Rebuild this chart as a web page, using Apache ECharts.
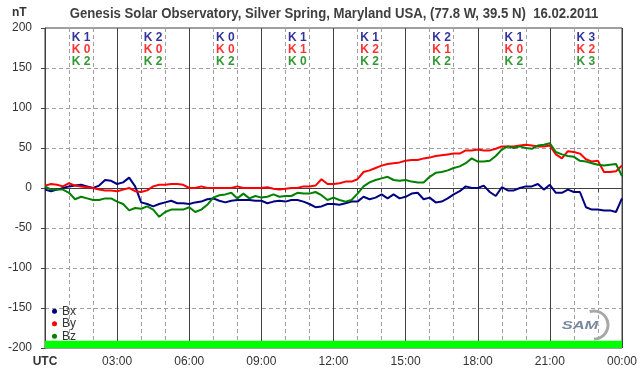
<!DOCTYPE html>
<html>
<head>
<meta charset="utf-8">
<script src="https://cdn.jsdelivr.net/npm/echarts@6/dist/echarts.min.js"></script>
<style>
  html, body { margin: 0; padding: 0; background: #fff; }
  #chart { width: 642px; height: 376px; }
</style>
</head>
<body>
<div id="chart"></div>
<script>
// samples every 15 minutes, 00:00 .. 24:00 UTC (nT)
const stepMin = 15;
const bx = [
  -2, -4, -2, 0, 2, 3, 4, 2, 0, 3, 10, 9, 5, 7, 13, 2,
  -18, -20, -23, -20, -18, -16, -19, -19, -20, -18, -17, -14, -13, -16, -18, -16,
  -15, -15, -15, -16, -16, -19, -17, -16, -17, -15, -15, -17, -20, -24, -23, -20,
  -20, -21, -19, -17, -17, -11, -14, -12, -8, -13, -8, -13, -11, -7, -6, -14,
  -12, -18, -17, -13, -8, -4, 2, 0, 0, 3, -5, -10, 1, -3, -3, 0,
  2, 2, 5, -2, 4, -6, -6, -2, -5, -5, -24, -27, -27, -28, -28, -30, -13,
];
const by = [
  3, 5, 4, 2, 6, 3, 2, 1, 0, -2, -3, -3, -4, -2, 0, -4,
  -5, -3, 2, 4, 4, 5, 5, 4, 0, 0, 2, 0, 0, 0, 0, 0,
  2, 0, 0, 0, 0, 1, -1, -2, -1, 0, 0, 2, 2, 3, 11, 5,
  5, 6, 8, 8, 11, 20, 22, 25, 28, 30, 31, 32, 34, 35, 35, 37,
  38, 40, 41, 42, 43, 43, 47, 47, 48, 47, 47, 49, 52, 52, 52, 53,
  54, 53, 52, 52, 53, 42, 37, 46, 45, 43, 36, 33, 34, 20, 20, 21, 28,
];
const bz = [
  2, -2, -2, -2, -6, -14, -11, -13, -15, -15, -13, -13, -17, -20, -28, -25,
  -26, -23, -27, -36, -30, -27, -27, -27, -24, -30, -27, -21, -12, -9, -8, -6,
  -13, -7, -13, -10, -12, -11, -8, -11, -10, -10, -6, -7, -7, -5, -9, -15,
  -12, -15, -17, -15, -7, 2, 7, 10, 12, 14, 10, 9, 10, 8, 7, 7,
  14, 19, 20, 22, 25, 27, 31, 37, 33, 33, 34, 40, 48, 52, 50, 52,
  50, 49, 53, 54, 56, 45, 42, 40, 39, 34, 33, 31, 29, 28, 29, 30, 15,
];

// K indices per 3-hour block
const kBx = [1, 2, 0, 1, 1, 2, 1, 3];
const kBy = [0, 0, 0, 1, 2, 1, 0, 2];
const kBz = [2, 2, 2, 0, 2, 2, 2, 3];

const tickLabels = ['UTC', '03:00', '06:00', '09:00', '12:00', '15:00', '18:00', '21:00', '00:00'];

const colors = { bx: '#000080', by: '#ff0000', bz: '#008000' };
const font = 'Liberation Sans, Arial, sans-serif';
const axisColor = '#404040';

const toPairs = (arr) => arr.map((v, i) => [i * stepMin / 60, v]);

const lineSeries = (name, data, color) => ({
  name: name,
  type: 'line',
  data: toPairs(data),
  showSymbol: false,
  symbol: 'circle',
  color: color,
  lineStyle: { color: color, width: 2 },
  animation: false,
  silent: true,
  z: 3,
});

const kSeries = (vals, row, color) => ({
  type: 'scatter',
  data: vals.map((k, i) => [1.5 + i * 3, row, k]),
  symbolSize: 0,
  silent: true,
  animation: false,
  label: {
    show: true,
    position: 'inside',
    formatter: (p) => 'K ' + p.data[2],
    color: color,
    fontFamily: font,
    fontWeight: 'bold',
    fontSize: 12,
  },
  z: 4,
});

const chart = echarts.init(document.getElementById('chart'), null, { renderer: 'canvas' });

chart.setOption({
  backgroundColor: '#fff',
  animation: false,
  grid: {
    left: 45,
    right: 20,
    top: 28,
    bottom: 28,
    show: true,
    borderColor: axisColor,
    borderWidth: 1,
    backgroundColor: '#fff',
    containLabel: false,
    outerBoundsMode: 'none',
  },
  legend: {
    data: ['Bx', 'By', 'Bz'],
    orient: 'vertical',
    left: 47,
    top: 300,
    icon: 'circle',
    itemWidth: 5,
    itemHeight: 5,
    itemGap: 0,
    itemTextGap: 3,
    selectedMode: false,
    textStyle: { color: '#333', fontFamily: font, fontSize: 12, lineHeight: 12.5 },
  },
  xAxis: {
    type: 'value',
    min: 0,
    max: 24,
    interval: 3,
    axisLine: { show: true, lineStyle: { color: axisColor } },
    axisTick: { show: true, length: 4, lineStyle: { color: axisColor } },
    minorTick: { show: true, splitNumber: 3, length: 4, lineStyle: { color: axisColor } },
    splitLine: { show: true, lineStyle: { color: axisColor, width: 1, type: 'solid' } },
    minorSplitLine: { show: true, lineStyle: { color: '#a0a0a0', type: [4, 3] } },
    axisLabel: {
      margin: 8,
      color: '#333',
      fontFamily: font,
      fontSize: 12,
      formatter: (v) => {
        const lbl = tickLabels[Math.round(v / 3)];
        return v === 0 ? '{b|' + lbl + '}' : lbl;
      },
      rich: { b: { fontWeight: 'bold', color: '#333', fontFamily: font, fontSize: 12 } },
    },
  },
  yAxis: {
    type: 'value',
    min: -200,
    max: 200,
    interval: 50,
    axisLine: { show: true, lineStyle: { color: axisColor } },
    axisTick: { show: true, length: 4, lineStyle: { color: axisColor } },
    splitLine: {
      show: true,
      showMinLine: false,
      showMaxLine: false,
      lineStyle: { color: '#a0a0a0', type: [4, 3] },
    },
    axisLabel: { margin: 13, color: '#333', fontFamily: font, fontSize: 12 },
  },
  series: [
    Object.assign(lineSeries('Bx', bx, colors.bx), {
      markLine: {
        silent: true,
        symbol: 'none',
        label: { show: false },
        lineStyle: { color: axisColor, type: 'solid', width: 1 },
        data: [{ yAxis: 0 }],
        z: 2,
      },
      markArea: {
        silent: true,
        itemStyle: { color: '#00ff00', opacity: 1 },
        data: [[{ yAxis: -200 }, { yAxis: -191 }]],
      },
    }),
    lineSeries('By', by, colors.by),
    lineSeries('Bz', bz, colors.bz),
    kSeries(kBx, 188, colors.bx),
    kSeries(kBy, 173, colors.by),
    kSeries(kBz, 158, colors.bz),
  ],
  graphic: [
    {
      // title, squeezed like the narrow original face
      type: 'text',
      x: 334,
      y: 14,
      scaleX: 0.94,
      style: {
        text: 'Genesis Solar Observatory, Silver Spring, Maryland USA, (77.8 W, 39.5 N)  16.02.2011',
        fill: '#404040',
        font: 'bold 14px ' + font,
        textAlign: 'center',
        textVerticalAlign: 'middle',
      },
    },
    {
      type: 'text',
      left: 12,
      top: 7,
      style: { text: 'nT', fill: '#333', font: 'bold 12px ' + font },
    },
    {
      type: 'arc',
      shape: { cx: 594, cy: 325, r: 14, startAngle: -Math.PI * 0.6, endAngle: Math.PI * 0.5 },
      style: { stroke: '#a8a8a8', lineWidth: 3, fill: null },
      z: 5,
    },
    {
      type: 'text',
      x: 580,
      y: 326,
      scaleX: 1.5,
      style: {
        text: 'SAM',
        fill: '#7888a0',
        stroke: '#fff',
        lineWidth: 1,
        font: 'italic bold 11px ' + font,
        textAlign: 'center',
        textVerticalAlign: 'middle',
      },
      z: 6,
    },
  ],
});
</script>
</body>
</html>
